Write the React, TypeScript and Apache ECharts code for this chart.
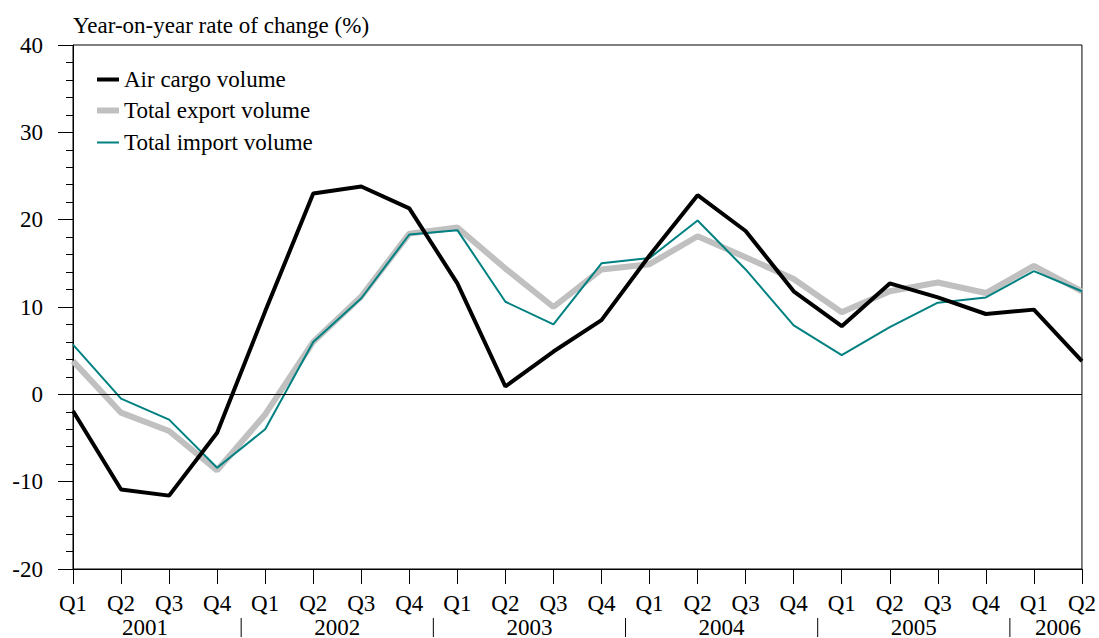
import React, { useEffect, useRef } from "react";
import * as echarts from "echarts";

const quarters = ["Q1","Q2","Q3","Q4","Q1","Q2","Q3","Q4","Q1","Q2","Q3","Q4","Q1","Q2","Q3","Q4","Q1","Q2","Q3","Q4","Q1","Q2"];
const years = ["2001","2002","2003","2004","2005","2006"];
const yearSpans = [[0,3],[4,7],[8,11],[12,15],[16,19],[20,21]];
const airCargo = [-1.9,-10.9,-11.6,-4.4,9.5,23.0,23.8,21.3,12.7,0.9,4.9,8.5,15.9,22.8,18.7,11.8,7.8,12.7,11.1,9.2,9.7,3.8];
const exportVol = [3.8,-2.1,-4.2,-8.7,-2.3,6.0,11.2,18.4,19.1,14.4,10.0,14.3,14.9,18.1,15.7,13.2,9.4,11.8,12.8,11.6,14.7,11.8];
const importVol = [5.7,-0.5,-2.9,-8.4,-4.0,6.0,11.0,18.3,18.8,10.6,8.0,15.0,15.6,19.9,14.3,7.9,4.5,7.7,10.5,11.1,14.1,11.8];

const FONT = "Liberation Serif";
const FS = 23;
const seriesNames = ["Air cargo volume", "Total export volume", "Total import volume"];
const seriesColors = ["#000000", "#c0c0c0", "#008080"];
const seriesWidths = [4, 6, 2];

export default function App() {
  const ref = useRef<HTMLDivElement>(null);
  useEffect(() => {
    document.body.style.margin = "0";
    const chart = echarts.init(ref.current!, null, { renderer: "svg" });
    const legendTops = [68, 99, 131];
    chart.setOption({
      animation: false,
      textStyle: { fontFamily: FONT, fontSize: FS },
      grid: { left: 73, right: 14, top: 45, bottom: 69, show: true, borderColor: "#000", borderWidth: 1 },
      legend: seriesNames.map((n, i) => ({
        left: 97,
        top: legendTops[i],
        padding: 0,
        itemWidth: 22,
        itemHeight: seriesWidths[i],
        icon: "rect",
        textStyle: { fontFamily: FONT, fontSize: FS, color: "#000" },
        data: [n],
      })),
      xAxis: {
        type: "category",
        data: quarters,
        boundaryGap: false,
        axisLine: { onZero: false, lineStyle: { color: "#000", width: 1 } },
        axisTick: { show: true, length: 15, lineStyle: { color: "#000" } },
        axisLabel: { fontFamily: FONT, fontSize: FS, color: "#000", margin: 23, interval: 0 },
        splitLine: { show: false },
      },
      yAxis: {
        type: "value",
        min: -20,
        max: 40,
        interval: 10,
        name: "Year-on-year rate of change (%)",
        nameLocation: "end",
        nameGap: 8,
        nameTextStyle: { fontFamily: FONT, fontSize: FS, color: "#000", align: "left" },
        axisLine: { show: true, lineStyle: { color: "#000", width: 1 } },
        axisTick: { show: true, length: 15, lineStyle: { color: "#000" } },
        minorTick: { show: true, splitNumber: 5, length: 7, lineStyle: { color: "#000" } },
        axisLabel: { fontFamily: FONT, fontSize: FS, color: "#000", margin: 30 },
        splitLine: { show: false },
      },
      series: [
        {
          name: seriesNames[0], type: "line", data: airCargo, symbol: "none",
          lineStyle: { color: seriesColors[0], width: seriesWidths[0] }, itemStyle: { color: seriesColors[0] }, z: 4,
          markLine: {
            silent: true, symbol: "none", label: { show: false },
            lineStyle: { color: "#000", width: 1, type: "solid" },
            data: [{ yAxis: 0 }],
          },
        },
        {
          name: seriesNames[1], type: "line", data: exportVol, symbol: "none",
          lineStyle: { color: seriesColors[1], width: seriesWidths[1] }, itemStyle: { color: seriesColors[1] }, z: 2,
        },
        {
          name: seriesNames[2], type: "line", data: importVol, symbol: "none",
          lineStyle: { color: seriesColors[2], width: seriesWidths[2] }, itemStyle: { color: seriesColors[2] }, z: 3,
        },
      ],
    });

    const px = (i: number) => chart.convertToPixel({ xAxisIndex: 0 }, i) as number;
    const elements: any[] = [];
    yearSpans.forEach(([a, b], k) => {
      const cx = (px(a) + px(b)) / 2;
      elements.push({
        type: "text", x: cx, y: 627,
        style: { text: years[k], fontFamily: FONT, fontSize: FS, fill: "#000", align: "center", verticalAlign: "middle" },
      });
      if (k > 0) {
        const sx = (px(a - 1) + px(a)) / 2;
        elements.push({ type: "line", shape: { x1: sx, y1: 618, x2: sx, y2: 637 }, style: { stroke: "#000", lineWidth: 1 } });
      }
    });
    // top frame extension to the left of the axis at 40
    elements.push({ type: "line", shape: { x1: 58, y1: 45.5, x2: 73, y2: 45.5 }, style: { stroke: "#000", lineWidth: 1 } });
    chart.setOption({ graphic: elements });
    return () => chart.dispose();
  }, []);
  return <div ref={ref} style={{ width: 1099, height: 638 }} />;
}
